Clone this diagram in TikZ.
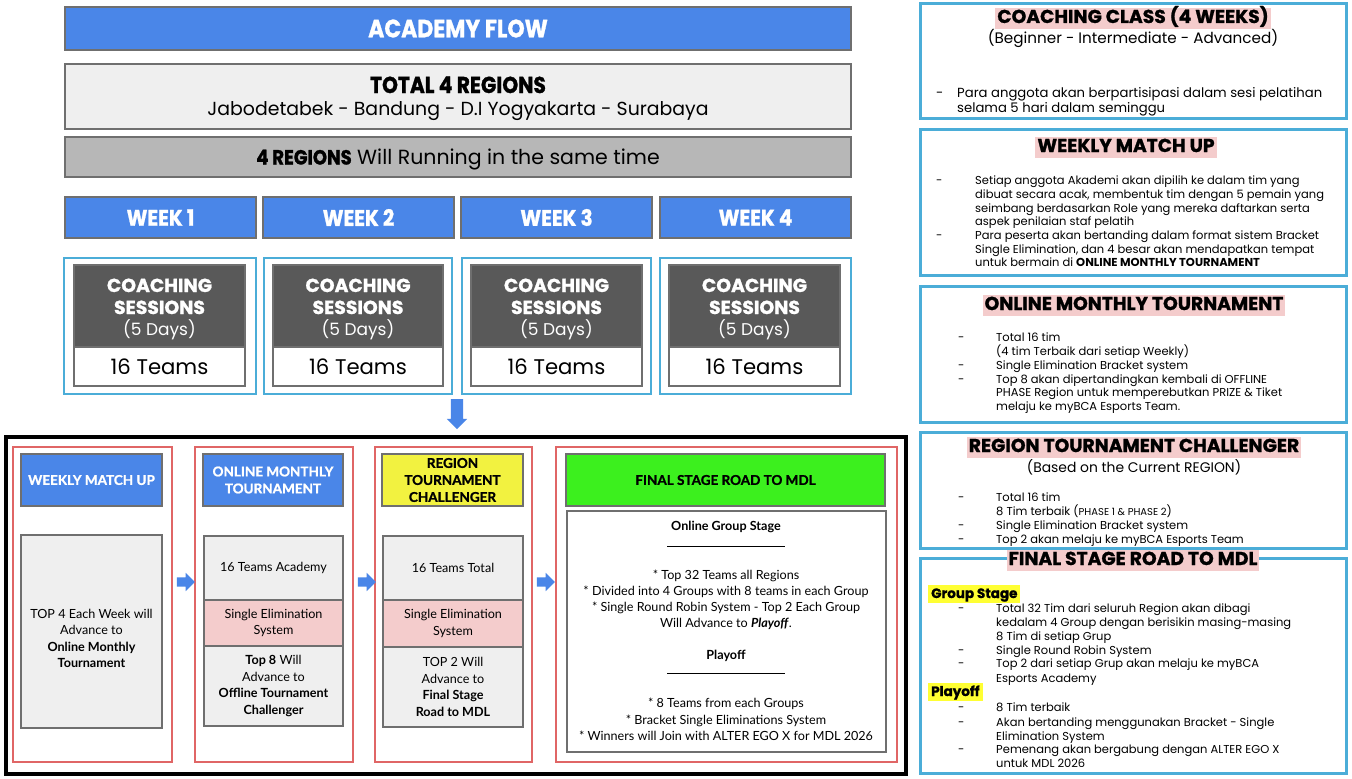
\documentclass[tikz,border=0pt]{standalone}
\usepackage{fontspec}
\setmainfont{Poppins}
\newfontfamily\popheavy[BoldFeatures={FakeBold=1.2}]{Poppins}
\newfontfamily\lato{Lato}
\newfontfamily\latoh[BoldFeatures={FakeBold=1.2}]{Lato}
\usetikzlibrary{shapes.arrows}
\definecolor{gblue}{HTML}{4A86E8}
\definecolor{lgray}{HTML}{EFEFEF}
\definecolor{mgray}{HTML}{B7B7B7}
\definecolor{dgray}{HTML}{595959}
\definecolor{bgray}{HTML}{6F6F6F}
\definecolor{cyanb}{HTML}{4BADD8}
\definecolor{pinkh}{HTML}{F4CCCC}
\definecolor{yel}{HTML}{FFFF33}
\definecolor{yelhead}{HTML}{F2F240}
\definecolor{grn}{HTML}{3CF01E}
\definecolor{redb}{HTML}{E06666}
\newcommand\mybox[7]{\node[#2, minimum width={#5-#3}, minimum height={#6-#4}] (#1) at ({(#3+#5)/2},{(#4+#6)/2}) {#7};}
\newcommand\tx[4]{\node[rtxt, anchor=base west] (#1) at (#2,#3) {#4};}
\newcommand\ctx[4]{\node[ctxt, anchor=base] (#1) at (#2,#3) {#4};}
\newcommand\dsh[3]{\node[rtxt, anchor=base west] (#1) at (#2,#3) {-};}
\tikzset{
  frame/.style={draw=bgray, line width=1.2pt, inner sep=0pt, align=center},
  bluebar/.style={frame, fill=gblue, text=white},
  lightbox/.style={frame, fill=lgray},
  midbar/.style={frame, fill=mgray},
  weekbar/.style={bluebar, font=\popheavy\bfseries\fontsize{22.5}{26}\selectfont},
  weekframe/.style={draw=cyanb, line width=1.5pt, inner sep=0pt},
  darkbox/.style={frame, fill=dgray},
  dtxt/.style={inner sep=0pt, text=white, anchor=base},
  cbold/.style={dtxt, font=\popheavy\bfseries\fontsize{18.8}{22}\selectfont},
  creg/.style={dtxt, font=\fontsize{17}{22}\selectfont},
  teambox/.style={frame, fill=white, font=\fontsize{21.2}{24}\selectfont},
  redframe/.style={draw=redb, line width=1.2pt, inner sep=0pt},
  flowhead/.style={frame, text=white, fill=gblue, font=\latoh\bfseries\fontsize{13.5}{17}\selectfont},
  flowbox/.style={frame, fill=lgray, font=\lato\fontsize{12.6}{16.5}\selectfont},
  flowpink/.style={frame, fill=pinkh, font=\lato\fontsize{12.6}{16.5}\selectfont},
  flowtxt/.style={inner sep=0pt, align=center, font=\lato\fontsize{12.6}{16.5}\selectfont},
  blockarrow/.style={single arrow, fill=gblue, draw=none, inner sep=4.5pt, single arrow head extend=4.5pt, minimum height=18pt},
  panel/.style={draw=cyanb, line width=3pt, inner sep=0pt},
  ptitle/.style={fill=pinkh, inner xsep=2pt, inner ysep=1.5pt, text height=14pt, text depth=4pt, font=\popheavy\bfseries\fontsize{18.7}{22}\selectfont},
  psub/.style={inner sep=0pt},
  rtxt/.style={inner sep=0pt, font=\fontsize{11.5}{13}\selectfont},
  ctxt/.style={inner sep=0pt, font=\lato\fontsize{12.6}{14}\selectfont},
  hlyel/.style={fill=yel, inner xsep=3pt, inner ysep=1.5pt, text height=11.5pt, text depth=3.5pt, font=\popheavy\bfseries\fontsize{13.5}{15}\selectfont},
  toptxt/.style={inner sep=0pt, anchor=base},
}
\begin{document}
\begin{tikzpicture}[x=1pt,y=-1pt]
\useasboundingbox (0,0) rectangle (1352,779);
\fill[white] (0,0) rectangle (1352,779);

% ---------- top area ----------
\mybox{flow}{bluebar, font=\popheavy\bfseries\fontsize{25}{28}\selectfont}{65}{7}{851}{50}{\scalebox{0.88}[1]{ACADEMY FLOW}}
\mybox{regions}{lightbox}{65}{64}{851}{129}{}
\node[toptxt, font=\popheavy\bfseries\fontsize{23}{26}\selectfont] (regt) at (458,93) {\scalebox{0.88}[1]{TOTAL 4 REGIONS}};
\node[toptxt, font=\fontsize{18.9}{22}\selectfont] (regl) at (458,115.5) {Jabodetabek - Bandung - D.I Yogyakarta - Surabaya};
\mybox{running}{midbar}{65}{137}{851}{177}{}
\node[toptxt, font=\fontsize{20.5}{24}\selectfont] (runt) at (458,164.5) {\scalebox{0.88}[1]{\popheavy\bfseries 4 REGIONS} Will Running in the same time};

\mybox{w1}{weekbar}{65}{197}{256}{238}{\scalebox{0.88}[1]{WEEK 1}}
\mybox{w2}{weekbar}{263}{197}{454}{238}{\scalebox{0.88}[1]{WEEK 2}}
\mybox{w3}{weekbar}{461}{197}{652}{238}{\scalebox{0.88}[1]{WEEK 3}}
\mybox{w4}{weekbar}{660}{197}{851}{238}{\scalebox{0.88}[1]{WEEK 4}}

\mybox{c1}{weekframe}{64}{258}{256}{394}{}
\mybox{c2}{weekframe}{264}{258}{452}{394}{}
\mybox{c3}{weekframe}{462}{258}{651}{394}{}
\mybox{c4}{weekframe}{660}{258}{851}{394}{}

\mybox{s1}{darkbox}{74}{265}{245}{347}{}
\mybox{s2}{darkbox}{273}{265}{443}{347}{}
\mybox{s3}{darkbox}{471}{265}{642}{347}{}
\mybox{s4}{darkbox}{669}{265}{840}{347}{}
\foreach \n/\cx in {1/159.5, 2/358, 3/556.5, 4/754.5}{
  \node[cbold] (s\n a) at (\cx,292) {COACHING};
  \node[cbold] (s\n b) at (\cx,314) {SESSIONS};
  \node[creg] (s\n c) at (\cx,335) {(5 Days)};
}

\mybox{t1}{teambox}{74}{347}{245}{386}{16 Teams}
\mybox{t2}{teambox}{273}{347}{443}{386}{16 Teams}
\mybox{t3}{teambox}{471}{347}{642}{386}{16 Teams}
\mybox{t4}{teambox}{669}{347}{840}{386}{16 Teams}

\node[blockarrow, rotate=-90, minimum height=30pt, inner sep=6pt, single arrow head extend=4pt] (down) at (457,411) {};

% ---------- bottom flow ----------
\mybox{bigframe}{draw=black, line width=4pt, inner sep=0pt}{6}{437}{906}{774}{}

\mybox{r1}{redframe}{13}{447}{172}{762}{}
\mybox{r2}{redframe}{195}{447}{353}{762}{}
\mybox{r3}{redframe}{375}{447}{532}{762}{}
\mybox{r4}{redframe}{556}{447}{897}{762}{}

\mybox{h1}{flowhead}{21}{454}{162}{506}{WEEKLY MATCH UP}
\mybox{h2}{flowhead}{203}{454}{343}{506}{ONLINE MONTHLY\\TOURNAMENT}
\mybox{h3}{flowhead, fill=yelhead, text=black}{382}{454}{523}{506}{REGION\\TOURNAMENT\\CHALLENGER}
\mybox{h4}{flowhead, fill=grn, text=black}{566}{454}{885}{506}{FINAL STAGE ROAD TO MDL}

\mybox{b1}{flowbox}{21}{535}{162}{728}{}
\node[flowtxt] (b1t) at (91.5,638.5) {TOP 4 Each Week will\\Advance to\\\textbf{Online Monthly}\\\textbf{Tournament}};

\mybox{b2a}{flowbox}{204}{536}{343}{600}{16 Teams Academy}
\mybox{b2b}{flowpink}{204}{600}{343}{646}{Single Elimination\\System}
\mybox{b2c}{flowbox}{204}{646}{343}{726}{\textbf{Top 8} Will\\Advance to\\\textbf{Offline Tournament}\\\textbf{Challenger}}

\mybox{b3a}{flowbox}{383}{536}{523}{600}{16 Teams Total}
\mybox{b3b}{flowpink}{383}{600}{523}{647}{Single Elimination\\System}
\mybox{b3c}{flowbox}{383}{647}{523}{727}{TOP 2 Will\\Advance to\\\textbf{Final Stage}\\\textbf{Road to MDL}}

\mybox{b4}{frame, fill=white}{567}{511}{886}{752}{}

\node[blockarrow] (a1) at (183.5,582) {};
\node[blockarrow] (a2) at (364.5,582) {};
\node[blockarrow] (a3) at (543.5,582) {};

\ctx{f1}{726}{530}{\textbf{Online Group Stage}}
\ctx{f2}{726}{546}{\rule{118pt}{0.5pt}}
\ctx{f3}{726}{579}{* Top 32 Teams all Regions}
\ctx{f4}{726}{595}{* Divided into 4 Groups with 8 teams in each Group}
\ctx{f5}{726}{611}{* Single Round Robin System - Top 2 Each Group}
\ctx{f6}{726}{627}{Will Advance to \textbf{\textit{Playoff}}.}
\ctx{f7}{726}{659}{\textbf{Playoff}}
\ctx{f8}{726}{673}{\rule{118pt}{0.5pt}}
\ctx{f9}{726}{707}{* 8 Teams from each Groups}
\ctx{f10}{726}{724}{* Bracket Single Eliminations System}
\ctx{f11}{726}{740}{* Winners will Join with ALTER EGO X for MDL 2026}

% ---------- right panels ----------
\mybox{p1}{panel}{920}{3}{1346}{118}{}
\mybox{p2}{panel}{920}{129}{1346}{275}{}
\mybox{p3}{panel}{920}{286}{1346}{422}{}
\mybox{p4}{panel}{920}{432}{1346}{548}{}
\mybox{p5}{panel}{920}{558}{1346}{773}{}

\node[ptitle] (p1t) at (1133,18) {COACHING CLASS (4 WEEKS)};
\node[psub, font=\fontsize{15.2}{18}\selectfont] (p1s) at (1133,38) {(Beginner - Intermediate - Advanced)};
\node[rtxt, anchor=base west, font=\fontsize{13.2}{15}\selectfont] (p1d) at (936,97) {-};
\node[rtxt, anchor=base west, font=\fontsize{13.2}{15}\selectfont] (p1a) at (957,97) {Para anggota akan berpartisipasi dalam sesi pelatihan};
\node[rtxt, anchor=base west, font=\fontsize{13.2}{15}\selectfont] (p1b) at (957,112.5) {selama 5 hari dalam seminggu};

\node[ptitle] (p2t) at (1126,147) {WEEKLY MATCH UP};
\dsh{p2d1}{936}{184}
\dsh{p2d2}{936}{239}
\tx{p2a}{975}{184}{Setiap anggota Akademi akan dipilih ke dalam tim yang}
\tx{p2b}{975}{198}{dibuat secara acak, membentuk tim dengan 5 pemain yang}
\tx{p2c}{975}{212}{seimbang berdasarkan Role yang mereka daftarkan serta}
\tx{p2e}{975}{225}{aspek penilaian staf pelatih}
\tx{p2f}{975}{239}{Para peserta akan bertanding dalam format sistem Bracket}
\tx{p2g}{975}{253}{Single Elimination, dan 4 besar akan mendapatkan tempat}
\tx{p2h}{975}{266}{untuk bermain di \textbf{ONLINE MONTHLY TOURNAMENT}}

\node[ptitle] (p3t) at (1134,305) {ONLINE MONTHLY TOURNAMENT};
\dsh{p3d1}{958}{341}
\dsh{p3d2}{958}{369}
\dsh{p3d3}{958}{383}
\tx{p3a}{996}{341}{Total 16 tim}
\tx{p3b}{996}{355}{(4 tim Terbaik dari setiap Weekly)}
\tx{p3c}{996}{369}{Single Elimination Bracket system}
\tx{p3e}{996}{383}{Top 8 akan dipertandingkan kembali di OFFLINE}
\tx{p3f}{996}{396}{PHASE Region untuk memperebutkan PRIZE \& Tiket}
\tx{p3g}{996}{410}{melaju ke myBCA Esports Team.}

\node[ptitle] (p4t) at (1134,447) {REGION TOURNAMENT CHALLENGER};
\node[psub, font=\fontsize{13.9}{17}\selectfont] (p4s) at (1134,467) {(Based on the Current REGION)};
\dsh{p4d1}{958}{501}
\dsh{p4d2}{958}{529}
\dsh{p4d3}{958}{543}
\tx{p4a}{996}{501}{Total 16 tim}
\tx{p4b}{996}{515}{8 Tim terbaik ({\fontsize{10}{12}\selectfont PHASE 1 \& PHASE 2})}
\tx{p4c}{996}{529}{Single Elimination Bracket system}
\tx{p4e}{996}{543}{Top 2 akan melaju ke myBCA Esports Team}

\node[ptitle] (p5t) at (1133,560) {FINAL STAGE ROAD TO MDL};
\node[hlyel, anchor=west] (p5g) at (928,594) {Group Stage};
\dsh{p5d1}{958}{612}
\dsh{p5d2}{958}{654}
\dsh{p5d3}{958}{667}
\tx{p5a}{996}{612}{Total 32 Tim dari seluruh Region akan dibagi}
\tx{p5b}{996}{626}{kedalam 4 Group dengan berisikin masing-masing}
\tx{p5c}{996}{640}{8 Tim di setiap Grup}
\tx{p5e}{996}{654}{Single Round Robin System}
\tx{p5f}{996}{667}{Top 2 dari setiap Grup akan melaju ke myBCA}
\tx{p5g2}{996}{682}{Esports Academy}
\node[hlyel, anchor=west] (p5p) at (928,692) {Playoff};
\dsh{p5d4}{958}{711}
\dsh{p5d5}{958}{726}
\dsh{p5d6}{958}{753}
\tx{p5h}{996}{711}{8 Tim terbaik}
\tx{p5i}{996}{726}{Akan bertanding menggunakan Bracket - Single}
\tx{p5j}{996}{740}{Elimination System}
\tx{p5k}{996}{753}{Pemenang akan bergabung dengan ALTER EGO X}
\tx{p5l}{996}{767}{untuk MDL 2026}
\end{tikzpicture}
\end{document}
